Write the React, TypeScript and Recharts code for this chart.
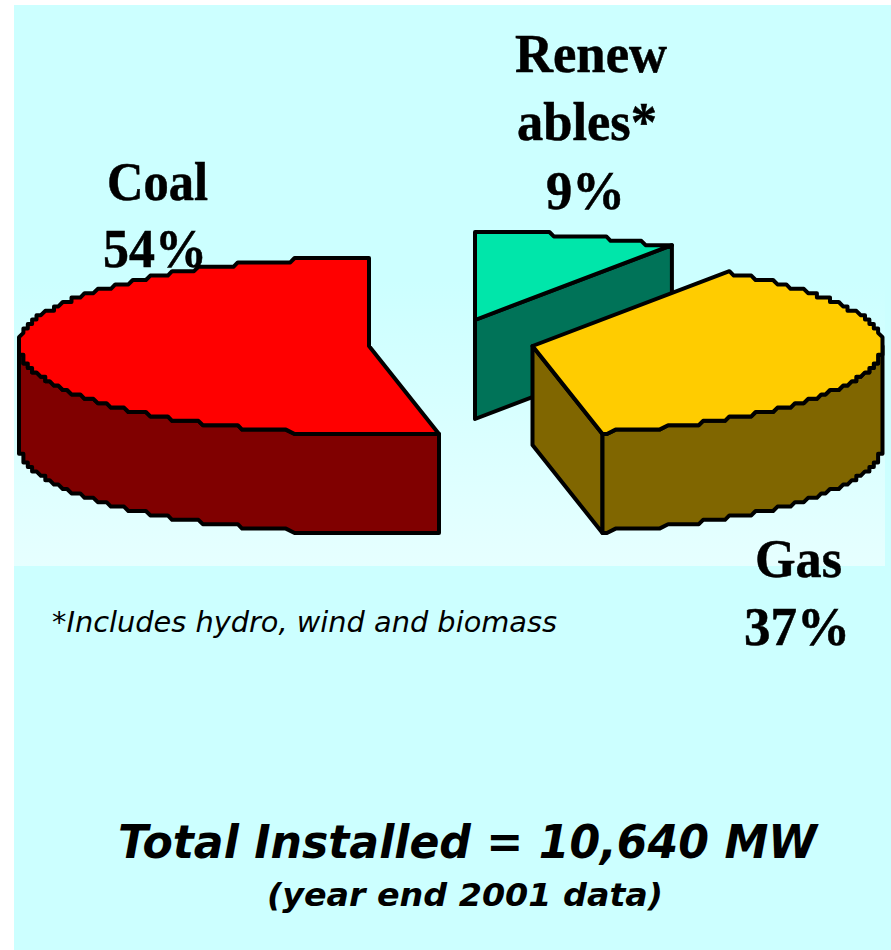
import React from "react";
import { PieChart, Pie } from "recharts";

// Installed capacity shares, in the clockwise order the slices are laid out from 12 o'clock.
const fuels = ["Renewables", "Gas", "Coal"];
const shares = [9, 37, 54];
const total = "Total Installed = 10,640 MW";
const period = "(year end 2001 data)";
const footnote = "*Includes hydro, wind and biomass";

const sliceTable = fuels.map((name, i) => ({ name, value: shares[i] }));

const TOP_COLOR: Record<string, string> = { Renewables: "#00e6aa", Gas: "#ffcc00", Coal: "#ff0000" };
const SIDE_COLOR: Record<string, string> = { Renewables: "#007358", Gas: "#806600", Coal: "#800000" };
const EXPLODE: Record<string, [number, number]> = { Renewables: [25, -26], Gas: [82.5, 0], Coal: [-81, 0] };

const TILT = 88 / 350; // vertical squash of the pie disc
const DEPTH = 99; // extruded thickness in pixels
const STROKE = 4;

// Small angular correction of the tilted projection, in degrees.
const rad = (d: number) => (d * Math.PI) / 180;
const project = (deg: number) => {
  const half = Math.sin(rad((deg - 90) / 2));
  return deg - (2.2 * half * half - 2.66 * Math.sin(rad(deg - 90)));
};

type P = [number, number];
const toPath = (pts: P[]) => "M" + pts.map((p) => `${p[0].toFixed(1)},${p[1].toFixed(1)}`).join("L") + "Z";
const shift = (pts: P[], dy: number): P[] => pts.map((p) => [p[0], p[1] + dy]);

// Rim point on the tilted disc, snapped to a coarse grid for the stepped outline.
const rimPoint = (cx: number, cy: number, rx: number, deg: number): P => {
  const ry = rx * TILT;
  const qx = rx / 80;
  const qy = ry / 20;
  const x = Math.round((rx * Math.cos(rad(deg))) / qx) * qx;
  const y = Math.round((ry * Math.sin(rad(deg))) / qy) * qy;
  return [cx + x, cy - y];
};

function Slice3D(props: any) {
  const { cx, cy, outerRadius, startAngle, endAngle, name } = props;
  const label = name ?? props.payload?.name;
  const [dx, dy] = EXPLODE[label];
  const ox = cx + dx;
  const oy = cy + dy;
  const a1 = project(Math.min(startAngle, endAngle));
  const a2 = project(Math.max(startAngle, endAngle));

  const arc: P[] = [];
  const rim: P[] = [];
  const steps = Math.ceil(a2 - a1);
  for (let i = 0; i <= steps; i++) {
    const a = a1 + ((a2 - a1) * i) / steps;
    const pt = rimPoint(ox, oy, outerRadius, a);
    arc.push(pt);
    if (Math.sin(rad(a)) < 0.02) rim.push(pt);
  }

  const apex: P = [ox, oy];
  const first = arc[0];
  const line = { stroke: "#000", strokeWidth: STROKE, strokeLinejoin: "round" as const };
  return (
    <g>
      {Math.cos(rad(a1)) > 0.01 && (
        <path d={toPath([apex, first, [first[0], first[1] + DEPTH], [apex[0], apex[1] + DEPTH]])} fill={SIDE_COLOR[label]} {...line} />
      )}
      {rim.length > 1 && (
        <path d={toPath([...rim, ...shift(rim, DEPTH).reverse()])} fill={SIDE_COLOR[label]} {...line} />
      )}
      <path d={toPath([apex, ...arc])} fill={TOP_COLOR[label]} {...line} />
    </g>
  );
}

const share = (name: string) => `${shares[fuels.indexOf(name)]}%`;

// One bold serif label line, fitted to a set width.
const SerifLine = ({ x, y, w, children }: { x: number; y: number; w: number; children: React.ReactNode }) => (
  <text
    x={x}
    y={y}
    textLength={w}
    lengthAdjust="spacingAndGlyphs"
    fontFamily="'Liberation Serif'"
    fontWeight={700}
    fontSize={54}
    fill="#000"
    stroke="#000"
    strokeWidth={0.5}
  >
    {children}
  </text>
);

export default function App() {
  return (
    <div style={{ position: "absolute", left: 0, top: 0, width: 891, height: 950, background: "#fff", overflow: "hidden" }}>
      <div style={{ position: "absolute", left: 14, top: 5, width: 877, height: 945, background: "#ccffff" }} />
      <div style={{ position: "absolute", left: 14, top: 280, width: 871, height: 286, background: "linear-gradient(#ccffff, #e6ffff)" }} />
      <svg width={891} height={950} style={{ position: "absolute", left: 0, top: 0 }}>
        <SerifLine x={107} y={200} w={101}>Coal</SerifLine>
        <SerifLine x={103} y={267} w={104}>{share("Coal")}</SerifLine>
        <SerifLine x={515} y={72} w={152}>Renew</SerifLine>
        <SerifLine x={517} y={140} w={140}>ables*</SerifLine>
        <SerifLine x={546} y={209} w={79}>{share("Renewables")}</SerifLine>
        <SerifLine x={755} y={577} w={87}>Gas</SerifLine>
        <SerifLine x={744} y={645} w={106}>{share("Gas")}</SerifLine>
        <text x={52} y={632} textLength={505} lengthAdjust="spacingAndGlyphs" fontFamily="'DejaVu Sans'" fontStyle="italic" fontSize={29} fill="#000">{footnote}</text>
        <text x={118} y={858} textLength={699} lengthAdjust="spacingAndGlyphs" fontFamily="'DejaVu Sans'" fontStyle="italic" fontWeight={700} fontSize={47} fill="#000">{total}</text>
        <text x={267} y={906} textLength={396} lengthAdjust="spacingAndGlyphs" fontFamily="'DejaVu Sans'" fontStyle="italic" fontWeight={700} fontSize={32} fill="#000">{period}</text>
      </svg>
      <div style={{ position: "absolute", left: 0, top: 0 }}>
        <PieChart width={891} height={950} margin={{ top: 0, right: 0, bottom: 0, left: 0 }} style={{ background: "transparent" }}>
          <Pie
            data={sliceTable}
            dataKey="value"
            nameKey="name"
            cx={450}
            cy={346}
            innerRadius={0}
            outerRadius={350}
            startAngle={90}
            endAngle={-270}
            isAnimationActive={false}
            label={false}
            labelLine={false}
            shape={Slice3D}
          />
        </PieChart>
      </div>
    </div>
  );
}
